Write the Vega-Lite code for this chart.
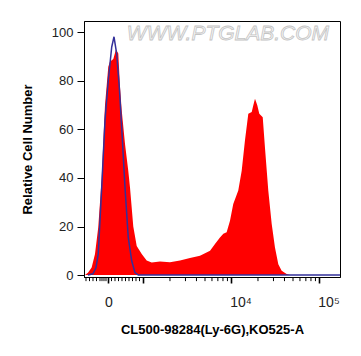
{
  "$schema": "https://vega.github.io/schema/vega-lite/v6.json",
  "width": 256,
  "height": 256,
  "autosize": {"type": "none"},
  "padding": {"left": 84, "top": 21, "right": 21, "bottom": 79},
  "background": "white",
  "config": {
    "view": {"stroke": "#000", "strokeWidth": 1},
    "font": "Liberation Sans"
  },
  "datasets": {
    "red": [
      {"x": 2.335, "count": 0}, {"x": 2.369, "count": 1}, {"x": 2.411, "count": 3.1}, {"x": 2.449, "count": 8.7},
      {"x": 2.486, "count": 19.7}, {"x": 2.525, "count": 40}, {"x": 2.5625, "count": 70}, {"x": 2.6, "count": 85.8},
      {"x": 2.619, "count": 87.9}, {"x": 2.657, "count": 89}, {"x": 2.6875, "count": 93}, {"x": 2.7136, "count": 91.3},
      {"x": 2.733, "count": 77.5}, {"x": 2.752, "count": 68}, {"x": 2.79, "count": 54}, {"x": 2.827, "count": 43},
      {"x": 2.847, "count": 36}, {"x": 2.884, "count": 20}, {"x": 2.923, "count": 12}, {"x": 2.98, "count": 8.7},
      {"x": 3.036, "count": 6}, {"x": 3.093, "count": 5.2}, {"x": 3.1875, "count": 5.6}, {"x": 3.301, "count": 5.3},
      {"x": 3.415, "count": 6.0}, {"x": 3.528, "count": 7.0}, {"x": 3.642, "count": 8}, {"x": 3.756, "count": 10},
      {"x": 3.8125, "count": 12.8}, {"x": 3.869, "count": 15.5}, {"x": 3.907, "count": 17}, {"x": 3.945, "count": 17.6},
      {"x": 3.983, "count": 22.4}, {"x": 4.02, "count": 29.3}, {"x": 4.077, "count": 34.8}, {"x": 4.116, "count": 43},
      {"x": 4.153, "count": 55.5}, {"x": 4.191, "count": 66.5}, {"x": 4.23, "count": 67.2}, {"x": 4.248, "count": 70},
      {"x": 4.267, "count": 72.7}, {"x": 4.293, "count": 70}, {"x": 4.316, "count": 66.5}, {"x": 4.355, "count": 65},
      {"x": 4.38, "count": 52.7}, {"x": 4.418, "count": 34.8}, {"x": 4.457, "count": 21}, {"x": 4.494, "count": 11.4},
      {"x": 4.532, "count": 4.5}, {"x": 4.57, "count": 1.8}, {"x": 4.627, "count": 0.4}, {"x": 4.665, "count": 0}
    ],
    "blue": [
      {"x": 2.369, "count": 0}, {"x": 2.426, "count": 0.5}, {"x": 2.46, "count": 3}, {"x": 2.486, "count": 8.7},
      {"x": 2.525, "count": 36}, {"x": 2.5625, "count": 63.8}, {"x": 2.6, "count": 80.3}, {"x": 2.639, "count": 94},
      {"x": 2.665, "count": 98.2}, {"x": 2.695, "count": 91.3}, {"x": 2.725, "count": 77.5}, {"x": 2.752, "count": 61},
      {"x": 2.79, "count": 36}, {"x": 2.827, "count": 15.5}, {"x": 2.866, "count": 5.9}, {"x": 2.903, "count": 1},
      {"x": 2.941, "count": 0}, {"x": 5.233, "count": 0}
    ],
    "minor": [
      {"x": 2.3466}, {"x": 2.3864}, {"x": 2.4261}, {"x": 2.4659}, {"x": 2.5057}, {"x": 2.5284}, {"x": 2.5511}, {"x": 2.5739},
      {"x": 2.6364}, {"x": 2.6761}, {"x": 2.7159}, {"x": 2.7557}, {"x": 2.7955}, {"x": 2.8352}, {"x": 2.875}, {"x": 2.9148}, {"x": 2.9545},
      {"x": 3.301}, {"x": 3.477}, {"x": 3.602}, {"x": 3.699}, {"x": 3.778}, {"x": 3.845}, {"x": 3.903}, {"x": 3.954},
      {"x": 4.301}, {"x": 4.477}, {"x": 4.602}, {"x": 4.699}, {"x": 4.778}, {"x": 4.845}, {"x": 4.903}, {"x": 4.954}
    ],
    "mark": [{"x": 3.96, "count": 99.3, "label": "WWW.PTGLAB.COM"}]
  },
  "layer": [
    {
      "data": {"name": "red"},
      "mark": {"type": "area", "color": "#ff0000", "interpolate": "linear", "clip": true},
      "encoding": {
        "x": {
          "field": "x", "type": "quantitative",
          "scale": {"domain": [2.324, 5.233], "nice": false, "zero": false},
          "axis": {
            "title": "CL500-98284(Ly-6G),KO525-A",
            "titleFont": "Liberation Sans", "titleFontSize": 13, "titleFontWeight": "bold", "titleColor": "#000",
            "titlePadding": 14,
            "values": [2.6, 3, 4, 5],
            "labelExpr": "datum.value < 2.7 ? '0' : datum.value > 3.9 && datum.value < 4.1 ? '10⁴' : datum.value > 4.9 ? '10⁵' : ''",
            "labelFont": "Liberation Sans", "labelFontSize": 14, "labelColor": "#222",
            "labelOffset": {"condition": {"test": "datum.value > 3.5", "value": 9}, "value": 0},
            "labelPadding": 12,
            "labelOverlap": false,
            "tickColor": "#000",
            "tickSize": 6,
            "tickWidth": 1.6,
            "domainColor": "#000",
            "grid": false
          }
        },
        "y": {
          "field": "count", "type": "quantitative",
          "scale": {"domain": [-0.8, 104.7], "nice": false, "zero": false},
          "axis": {
            "title": "Relative Cell Number",
            "titleFont": "Liberation Sans", "titleFontSize": 13, "titleFontWeight": "bold", "titleColor": "#000",
            "titlePadding": 17,
            "values": [0, 5, 10, 15, 20, 25, 30, 35, 40, 45, 50, 55, 60, 65, 70, 75, 80, 85, 90, 95, 100],
            "labelExpr": "datum.value % 20 == 0 ? datum.label : ''",
            "labelFont": "Liberation Sans", "labelFontSize": 13, "labelColor": "#222",
            "labelPadding": 4,
            "tickColor": "#000",
            "tickSize": {"condition": {"test": "datum.value % 20 == 0", "value": 7}, "value": 4},
            "domainColor": "#000",
            "grid": false
          }
        }
      }
    },
    {
      "data": {"name": "minor"},
      "mark": {"type": "rule", "color": "#000", "strokeWidth": 1, "clip": false},
      "encoding": {
        "x": {"field": "x", "type": "quantitative"},
        "y": {"datum": -0.8},
        "y2": {"datum": -2.5}
      }
    },
    {
      "data": {"name": "blue"},
      "mark": {"type": "line", "color": "#33309a", "strokeWidth": 1.5, "interpolate": "linear", "clip": true},
      "encoding": {
        "x": {"field": "x", "type": "quantitative"},
        "y": {"field": "count", "type": "quantitative"}
      }
    },
    {
      "data": {"name": "mark"},
      "mark": {"type": "text", "font": "Liberation Sans", "fontSize": 21, "fontStyle": "italic", "fill": "#f6f6f6", "stroke": "#c4c4c4", "strokeWidth": 0.8},
      "encoding": {
        "x": {"field": "x", "type": "quantitative"},
        "y": {"field": "count", "type": "quantitative"},
        "text": {"field": "label"}
      }
    }
  ]
}
